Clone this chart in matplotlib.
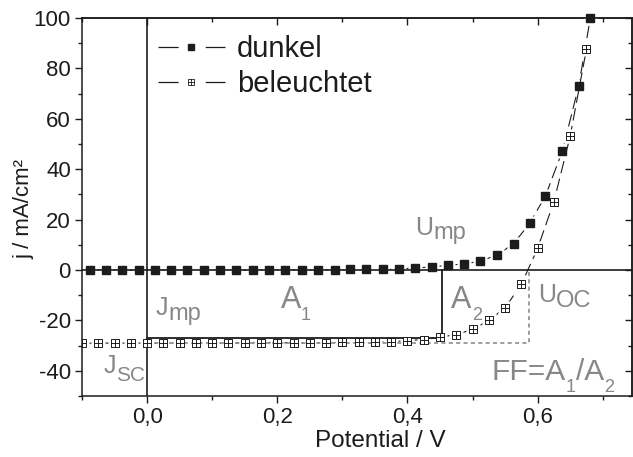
import matplotlib
matplotlib.use('Agg')
import matplotlib.pyplot as plt
from matplotlib.path import Path
from matplotlib.lines import Line2D
from matplotlib.ticker import MultipleLocator, FuncFormatter

plt.rcParams['font.family'] = ['Liberation Sans', 'DejaVu Sans']
plt.rcParams['lines.scale_dashes'] = False
plt.rcParams['axes.unicode_minus'] = False

# Kennlinie ohne Beleuchtung (dunkel)
v_dunkel = [-0.088, -0.063, -0.038, -0.012, 0.012, 0.037, 0.062, 0.087,
            0.112, 0.137, 0.162, 0.187, 0.212, 0.238, 0.263, 0.288,
            0.312, 0.337, 0.362, 0.387, 0.412, 0.437, 0.463, 0.487,
            0.512, 0.538, 0.563, 0.588, 0.612, 0.638, 0.663, 0.681]
j_dunkel = [0.0, 0.0, 0.0, 0.0, 0.0, 0.0, 0.0, 0.0,
            0.0, 0.0, 0.0, 0.0, 0.0, 0.1, 0.1, 0.1,
            0.2, 0.2, 0.3, 0.5, 0.8, 1.2, 1.9, 2.4,
            3.5, 6.0, 10.4, 18.6, 29.4, 47.2, 72.9, 100.0]

# Kennlinie unter Beleuchtung
v_hell = [-0.100, -0.075, -0.050, -0.025, 0.000, 0.025, 0.050, 0.075,
          0.100, 0.125, 0.150, 0.175, 0.200, 0.225, 0.250, 0.275,
          0.300, 0.325, 0.350, 0.375, 0.400, 0.425, 0.450, 0.475,
          0.500, 0.525, 0.550, 0.575, 0.600, 0.625, 0.650, 0.675]
j_hell = [-29.0, -29.0, -29.0, -29.0, -29.0, -29.0, -29.0, -29.0,
          -29.0, -29.0, -28.9, -28.9, -28.9, -28.9, -28.9, -28.9,
          -28.7, -28.7, -28.5, -28.5, -28.0, -27.6, -26.7, -25.6,
          -23.6, -20.0, -15.0, -5.7, 8.6, 27.1, 53.1, 87.6]

# Punkt maximaler Leistung, Leerlaufspannung, Kurzschlussstrom
v_mp, j_mp = 0.453, -26.8
v_oc, j_sc = 0.586, -29.0

GRAY = '#878787'
INK = '#1c1c1c'

# offenes Quadrat mit Kreuz als Symbol
box_cross = Path(
    [(-1, -1), (1, -1), (1, 1), (-1, 1), (-1, -1),
     (0, -1), (0, 1), (-1, 0), (1, 0)],
    [Path.MOVETO, Path.LINETO, Path.LINETO, Path.LINETO, Path.CLOSEPOLY,
     Path.MOVETO, Path.LINETO, Path.MOVETO, Path.LINETO])

fig = plt.figure(figsize=(6.33, 4.57), dpi=100)
ax = fig.add_axes([82 / 633, 1 - 396 / 457, 550 / 633, 378 / 457])
ax.set_xlim(-0.1, 0.745)
ax.set_ylim(-50, 100)

dash = (0, (9, 4))
# Verbindungslinien, an den Symbolen weiss ausgespart
ax.plot(v_dunkel, j_dunkel, color=INK, lw=0.8, ls=dash, zorder=1.0)
ax.plot(v_dunkel, j_dunkel, ls='none', marker='s', ms=9.5, mfc='white',
        mec='none', zorder=1.1)
ax.plot(v_hell, j_hell, color=INK, lw=0.8, ls=dash, zorder=1.2)
ax.plot(v_hell, j_hell, ls='none', marker='s', ms=9.5, mfc='white',
        mec='none', zorder=1.3)

# Hilfslinien
ax.axvline(0, color=INK, lw=1.2, zorder=2)
ax.axhline(0, color=INK, lw=1.2, zorder=2)
ax.plot([0, v_mp, v_mp], [j_mp, j_mp, 0], color=INK, lw=1.3, zorder=2)
ax.plot([0, v_oc, v_oc], [j_sc, j_sc, 0], color='#8c8c8c', lw=1.2,
        ls=(0, (2.9, 2.4)), zorder=2)

# Messpunkte
ax.plot(v_dunkel, j_dunkel, ls='none', marker='s', ms=5.6, mfc=INK,
        mec=INK, zorder=4, clip_on=False)
ax.plot(v_hell, j_hell, ls='none', marker=box_cross, ms=5.6, mfc='white',
        mec=INK, mew=0.7, zorder=4)

# Achsen
ax.xaxis.set_major_locator(MultipleLocator(0.2))
ax.xaxis.set_minor_locator(MultipleLocator(0.1))
ax.xaxis.set_major_formatter(
    FuncFormatter(lambda v, p: f'{0.0 if abs(v) < 1e-9 else v:.1f}'.replace('.', ',')))
ax.yaxis.set_major_locator(MultipleLocator(20))
ax.yaxis.set_minor_locator(MultipleLocator(10))
ax.tick_params(which='major', direction='out', length=5, width=1.0,
               color=INK, labelsize=16, labelcolor=INK, pad=3)
ax.tick_params(which='minor', direction='out', length=3, width=1.0, color=INK)
ax.tick_params(axis='x', which='major', pad=3)
for s in ax.spines.values():
    s.set_linewidth(1.1)
    s.set_color(INK)

top = ax.secondary_xaxis('top')
top.xaxis.set_major_locator(MultipleLocator(0.2))
top.xaxis.set_minor_locator(MultipleLocator(0.1))
top.tick_params(which='major', direction='in', length=5, width=1.0,
                color=INK, labeltop=False)
top.tick_params(which='minor', direction='in', length=3, width=1.0, color=INK)
right = ax.secondary_yaxis('right')
right.yaxis.set_major_locator(MultipleLocator(20))
right.yaxis.set_minor_locator(MultipleLocator(10))
right.tick_params(which='major', direction='in', length=5, width=1.0,
                  color=INK, labelright=False)
right.tick_params(which='minor', direction='in', length=3, width=1.0, color=INK)
for sec in (top, right):
    for s in sec.spines.values():
        s.set_linewidth(1.1)
        s.set_color(INK)

ax.set_xlabel('Potential / V', fontsize=17.5, color=INK)
ax.xaxis.set_label_coords(0.542, -0.09)
ax.set_ylabel('j / mA/cm²', fontsize=16, color=INK)
ax.yaxis.set_label_coords(-0.086, 0.495)

# Legende
leg_dash = (0, (14.5, 19.5))
h_dunkel = Line2D([], [], color=INK, lw=0.9, ls=leg_dash, marker='s', ms=4.5,
                  mfc=INK, mec=INK)
h_hell = Line2D([], [], color=INK, lw=0.9, ls=leg_dash, marker=box_cross,
                ms=4.5, mfc='white', mec=INK, mew=0.6)
ax.legend([h_dunkel, h_hell], ['dunkel', 'beleuchtet'], loc='upper left',
          bbox_to_anchor=(0.138, 0.955), frameon=False, fontsize=21,
          handlelength=2.3, handletextpad=0.4, labelspacing=0.25,
          borderpad=0, borderaxespad=0, numpoints=1, labelcolor=INK)


def gray_label(x, y, parts):
    # parts: (text, size, shift below baseline in pt)
    text, size = parts[0]
    prev = ax.text(x, y, text, fontsize=size, color=GRAY, va='baseline',
                   ha='left', zorder=3)
    for text, size, shift in parts[1:]:
        prev = ax.annotate(text, xy=(1, y), xycoords=(prev, 'data'),
                           xytext=(0, -shift), textcoords='offset points',
                           fontsize=size, color=GRAY, va='baseline',
                           ha='left', zorder=3)


gray_label(0.4116, 13.9, [('U', 18), ('mp', 17, 2.9)])
gray_label(0.6006, -12.6, [('U', 18), ('OC', 17, 3.6)])
gray_label(0.0137, -17.9, [('J', 18), ('mp', 17, 3.6)])
gray_label(-0.0662, -40.9, [('J', 18), ('SC', 15, 6.0)])
gray_label(0.2050, -15.2, [('A', 22), ('1', 13, 8.4)])
gray_label(0.4675, -15.2, [('A', 22), ('2', 13, 8.4)])
gray_label(0.5290, -43.6, [('FF=A', 21.5), ('1', 13, 8.4),
                           ('/A', 21.5, 0), ('2', 13, 8.4)])

fig.savefig('out.png', dpi=100)
